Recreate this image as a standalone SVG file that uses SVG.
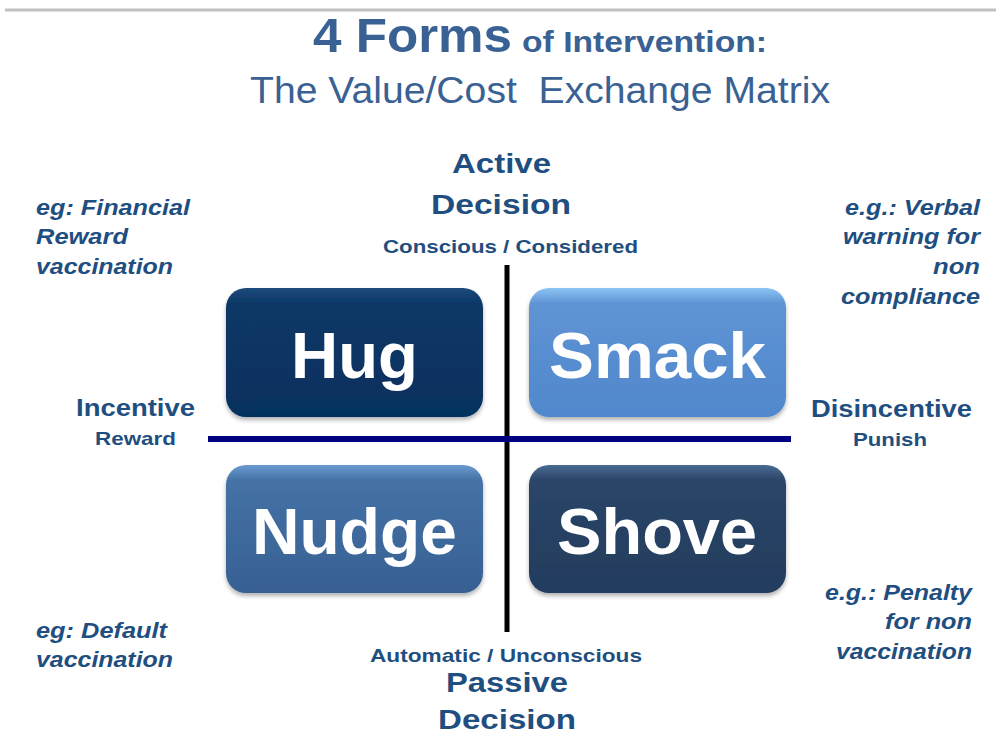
<svg xmlns="http://www.w3.org/2000/svg" width="996" height="735" viewBox="0 0 996 735">
<style>
text{font-family:"Liberation Sans",Arial,sans-serif}
.t{fill:#1f4e80;font-weight:bold}
.n{fill:#3a6193}
.ex{fill:#1f4e80;font-weight:bold;font-style:italic;font-size:22px}
.box{fill:#fff;font-weight:bold;font-size:64px}
</style>
<defs>
<linearGradient id="gHug" x1="0" y1="0" x2="0" y2="1"><stop offset="0" stop-color="#1d4a7c"/><stop offset="0.12" stop-color="#0b3866"/><stop offset="1" stop-color="#063060"/></linearGradient>
<linearGradient id="gSmack" x1="0" y1="0" x2="0" y2="1"><stop offset="0" stop-color="#8cc4f4"/><stop offset="0.12" stop-color="#5f93d4"/><stop offset="1" stop-color="#5088cc"/></linearGradient>
<linearGradient id="gNudge" x1="0" y1="0" x2="0" y2="1"><stop offset="0" stop-color="#6a9ad0"/><stop offset="0.12" stop-color="#4572a6"/><stop offset="1" stop-color="#376093"/></linearGradient>
<linearGradient id="gShove" x1="0" y1="0" x2="0" y2="1"><stop offset="0" stop-color="#4a6a92"/><stop offset="0.12" stop-color="#2a4568"/><stop offset="1" stop-color="#233c5e"/></linearGradient>
<filter id="sh" x="-10%" y="-10%" width="120%" height="130%"><feDropShadow dx="0" dy="3" stdDeviation="2" flood-color="#000" flood-opacity="0.3"/></filter>
</defs>
<rect width="996" height="735" fill="#fff"/>
<line x1="5" y1="10" x2="996" y2="10" stroke="#bfbfbf" stroke-width="3"/>
<g id="title" class="n">
<text x="313" y="52" class="n" font-weight="bold" font-size="49" textLength="199" lengthAdjust="spacingAndGlyphs">4 Forms</text>
<text x="522" y="52" class="n" font-weight="bold" font-size="30" textLength="245" lengthAdjust="spacingAndGlyphs">of Intervention:</text>
<text x="250" y="103" class="n" font-size="37" textLength="580" lengthAdjust="spacingAndGlyphs">The Value/Cost&#160; Exchange Matrix</text>
</g>
<g id="connectors">
<line x1="507" y1="265" x2="507" y2="632" stroke="#000" stroke-width="5"/>
<line x1="208" y1="439" x2="791" y2="439" stroke="#000080" stroke-width="6"/>
</g>
<g id="active">
<text x="452" y="173" class="t" font-size="28" textLength="99" lengthAdjust="spacingAndGlyphs">Active</text>
<text x="431" y="214" class="t" font-size="28" textLength="140" lengthAdjust="spacingAndGlyphs">Decision</text>
<text x="383" y="253" class="t" font-size="19" textLength="255" lengthAdjust="spacingAndGlyphs">Conscious / Considered</text>
</g>
<g id="passive">
<text x="370" y="662" class="t" font-size="19" textLength="272" lengthAdjust="spacingAndGlyphs">Automatic / Unconscious</text>
<text x="446" y="692" class="t" font-size="28" textLength="122" lengthAdjust="spacingAndGlyphs">Passive</text>
<text x="438" y="729" class="t" font-size="28" textLength="138" lengthAdjust="spacingAndGlyphs">Decision</text>
</g>
<g id="incentive">
<text x="76" y="416" class="t" font-size="23" textLength="119" lengthAdjust="spacingAndGlyphs">Incentive</text>
<text x="95" y="445" class="t" font-size="19" textLength="81" lengthAdjust="spacingAndGlyphs">Reward</text>
</g>
<g id="disincentive">
<text x="811" y="417" class="t" font-size="23" textLength="161" lengthAdjust="spacingAndGlyphs">Disincentive</text>
<text x="853" y="446" class="t" font-size="19" textLength="74" lengthAdjust="spacingAndGlyphs">Punish</text>
</g>
<g id="hug">
<rect x="226" y="288" width="257" height="129" rx="20" fill="url(#gHug)" filter="url(#sh)"/>
<text x="291" y="378" class="box" textLength="127" lengthAdjust="spacingAndGlyphs">Hug</text>
</g>
<g id="smack">
<rect x="529" y="288" width="257" height="129" rx="20" fill="url(#gSmack)" filter="url(#sh)"/>
<text x="549" y="378" class="box" textLength="217" lengthAdjust="spacingAndGlyphs">Smack</text>
</g>
<g id="nudge">
<rect x="226" y="465" width="257" height="128" rx="20" fill="url(#gNudge)" filter="url(#sh)"/>
<text x="252" y="554" class="box" textLength="205" lengthAdjust="spacingAndGlyphs">Nudge</text>
</g>
<g id="shove">
<rect x="529" y="465" width="257" height="128" rx="20" fill="url(#gShove)" filter="url(#sh)"/>
<text x="557" y="554" class="box" textLength="200" lengthAdjust="spacingAndGlyphs">Shove</text>
</g>
<g id="ex-hug">
<text class="ex" x="36" y="215" textLength="154" lengthAdjust="spacingAndGlyphs">eg: Financial</text>
<text class="ex" x="36" y="244" textLength="92" lengthAdjust="spacingAndGlyphs">Reward</text>
<text class="ex" x="36" y="274" textLength="137" lengthAdjust="spacingAndGlyphs">vaccination</text>
</g>
<g id="ex-smack">
<text class="ex" x="845" y="215" textLength="135" lengthAdjust="spacingAndGlyphs">e.g.: Verbal</text>
<text class="ex" x="843" y="244" textLength="137" lengthAdjust="spacingAndGlyphs">warning for</text>
<text class="ex" x="933" y="274" textLength="47" lengthAdjust="spacingAndGlyphs">non</text>
<text class="ex" x="841" y="304" textLength="139" lengthAdjust="spacingAndGlyphs">compliance</text>
</g>
<g id="ex-nudge">
<text class="ex" x="36" y="638" textLength="131" lengthAdjust="spacingAndGlyphs">eg: Default</text>
<text class="ex" x="36" y="667" textLength="137" lengthAdjust="spacingAndGlyphs">vaccination</text>
</g>
<g id="ex-shove">
<text class="ex" x="825" y="600" textLength="147" lengthAdjust="spacingAndGlyphs">e.g.: Penalty</text>
<text class="ex" x="885" y="629" textLength="87" lengthAdjust="spacingAndGlyphs">for non</text>
<text class="ex" x="836" y="659" textLength="136" lengthAdjust="spacingAndGlyphs">vaccination</text>
</g>
</svg>
